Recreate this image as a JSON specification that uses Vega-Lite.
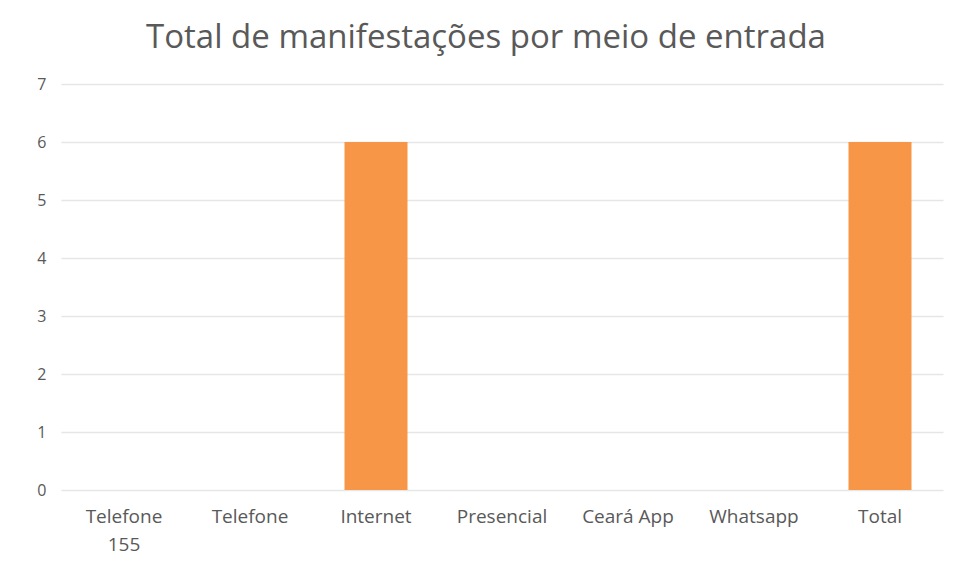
{
  "$schema": "https://vega.github.io/schema/vega-lite/v6.json",
  "autosize": {"type": "none"},
  "width": 882,
  "height": 406,
  "padding": {"left": 61, "top": 84, "right": 15, "bottom": 91},
  "background": "white",
  "title": {
    "text": "Total de manifestações por meio de entrada",
    "font": "Open Sans",
    "fontSize": 33,
    "fontWeight": "normal",
    "color": "#595959",
    "anchor": "middle",
    "dx": -16,
    "offset": 21
  },
  "data": {
    "values": [
      {"meio": "Telefone 155", "valor": 0},
      {"meio": "Telefone", "valor": 0},
      {"meio": "Internet", "valor": 6},
      {"meio": "Presencial", "valor": 0},
      {"meio": "Ceará App", "valor": 0},
      {"meio": "Whatsapp", "valor": 0},
      {"meio": "Total", "valor": 6}
    ]
  },
  "mark": {"type": "bar", "color": "#F79646"},
  "encoding": {
    "x": {
      "field": "meio",
      "type": "nominal",
      "sort": null,
      "scale": {"paddingInner": 0.5, "paddingOuter": 0.25},
      "axis": {
        "title": null,
        "labelAngle": 0,
        "domain": false,
        "ticks": false,
        "labelPadding": 17,
        "labelFont": "Open Sans",
        "labelFontSize": 19,
        "labelColor": "#595959",
        "labelLineHeight": 28,
        "labelExpr": "datum.label == 'Telefone 155' ? ['Telefone', '155'] : datum.label"
      }
    },
    "y": {
      "field": "valor",
      "type": "quantitative",
      "scale": {"domain": [0, 7], "nice": false},
      "axis": {
        "title": null,
        "values": [0, 1, 2, 3, 4, 5, 6, 7],
        "labelOverlap": false,
        "labelFlush": false,
        "domain": false,
        "ticks": false,
        "labelPadding": 15,
        "labelFont": "Open Sans",
        "labelFontSize": 16,
        "labelColor": "#595959",
        "gridColor": "#e6e6e6",
        "gridWidth": 1.5
      }
    }
  },
  "config": {"view": {"stroke": null}}
}
